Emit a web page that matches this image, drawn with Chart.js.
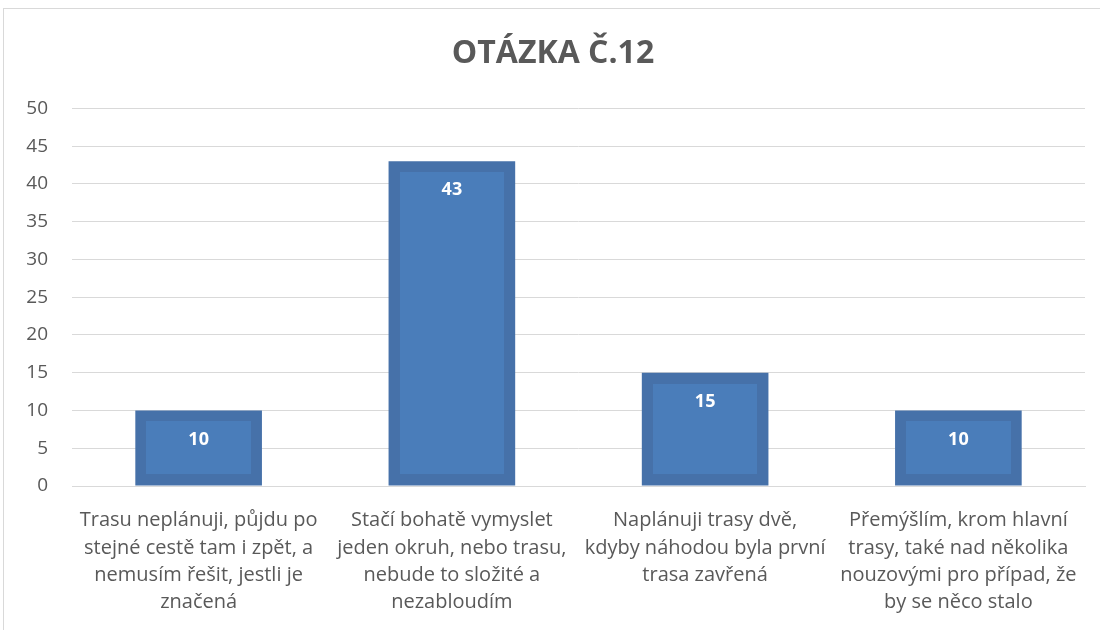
<!DOCTYPE html>
<html>
<head>
<meta charset="utf-8">
<script src="https://cdn.jsdelivr.net/npm/chart.js@4"></script>
<style>
  body { margin: 0; background: #fff; overflow: hidden; }
  .frame { position: absolute; left: 3px; top: 8px; width: 1200px; height: 700px; border: 1px solid #d9d9d9; }
  canvas { position: absolute; left: 0; top: 0; }
</style>
</head>
<body>
<div class="frame"></div>
<canvas id="chart" width="1100" height="630"></canvas>
<script>
const categories = [
  ["Trasu neplánuji, půjdu po", "stejné cestě tam i zpět, a", "nemusím řešit, jestli je", "značená"],
  ["Stačí bohatě vymyslet", "jeden okruh, nebo trasu,", "nebude to složité a", "nezabloudím"],
  ["Naplánuji trasy dvě,", "kdyby náhodou byla první", "trasa zavřená"],
  ["Přemýšlím, krom hlavní", "trasy, také nad několika", "nouzovými pro případ, že", "by se něco stalo"]
];
const counts = [10, 43, 15, 10];
const yTicks = [0, 5, 10, 15, 20, 25, 30, 35, 40, 45, 50];

const fontFamily = "'Open Sans', Lato, sans-serif";
const textColor = "#595959";
const gridColor = "#d9d9d9";
const barEdge = "#4671a9";
const barFace = "#4a7dba";

// lighter inner panel and white value inside the top of each bar
const barFaces = {
  id: "barFaces",
  afterDatasetsDraw(chart) {
    const ctx = chart.ctx;
    const meta = chart.getDatasetMeta(0);
    const inset = 11;
    ctx.save();
    meta.data.forEach((bar, i) => {
      const half = bar.width / 2;
      const left = Math.round(bar.x - half) + inset;
      const right = Math.round(bar.x + half) - inset;
      const top = Math.round(bar.y) + inset;
      const bottom = Math.round(bar.base) - inset - 1;
      ctx.fillStyle = barFace;
      ctx.fillRect(left, top, right - left, bottom - top);
      ctx.fillStyle = "#ffffff";
      ctx.font = "bold 18px " + fontFamily;
      ctx.textAlign = "center";
      ctx.textBaseline = "middle";
      ctx.fillText(String(counts[i]), bar.x, bar.y + 29);
    });
    ctx.restore();
  },
};

new Chart(document.getElementById("chart").getContext("2d"), {
  type: "bar",
  data: {
    labels: categories,
    datasets: [
      {
        data: counts,
        backgroundColor: barEdge,
        borderWidth: 0,
        barPercentage: 0.5,
        categoryPercentage: 1,
      },
    ],
  },
  options: {
    responsive: false,
    animation: false,
    layout: { padding: { left: 21, right: 15, top: 0, bottom: 0 } },
    scales: {
      x: {
        grid: { display: false },
        border: { color: gridColor },
        ticks: {
          color: textColor,
          font: { family: fontFamily, size: 20, lineHeight: 1.36 },
          padding: 13,
          maxRotation: 0,
          autoSkip: false,
        },
        afterFit(axis) { axis.height = 144; },
      },
      y: {
        min: 0,
        max: 50,
        afterBuildTicks(axis) { axis.ticks = yTicks.map((v) => ({ value: v })); },
        grid: { color: gridColor, drawTicks: false },
        border: { display: false },
        ticks: {
          color: textColor,
          font: { family: fontFamily, size: 19 },
          padding: 24,
        },
        afterFit(axis) { axis.width = 51; },
      },
    },
    plugins: {
      legend: { display: false },
      tooltip: { enabled: false },
      title: {
        display: true,
        text: "OTÁZKA Č.12",
        color: textColor,
        font: { family: fontFamily, size: 32, weight: "bold", lineHeight: 1.2 },
        padding: { top: 35, bottom: 35 },
      },
    },
  },
  plugins: [barFaces],
});
</script>
</body>
</html>
